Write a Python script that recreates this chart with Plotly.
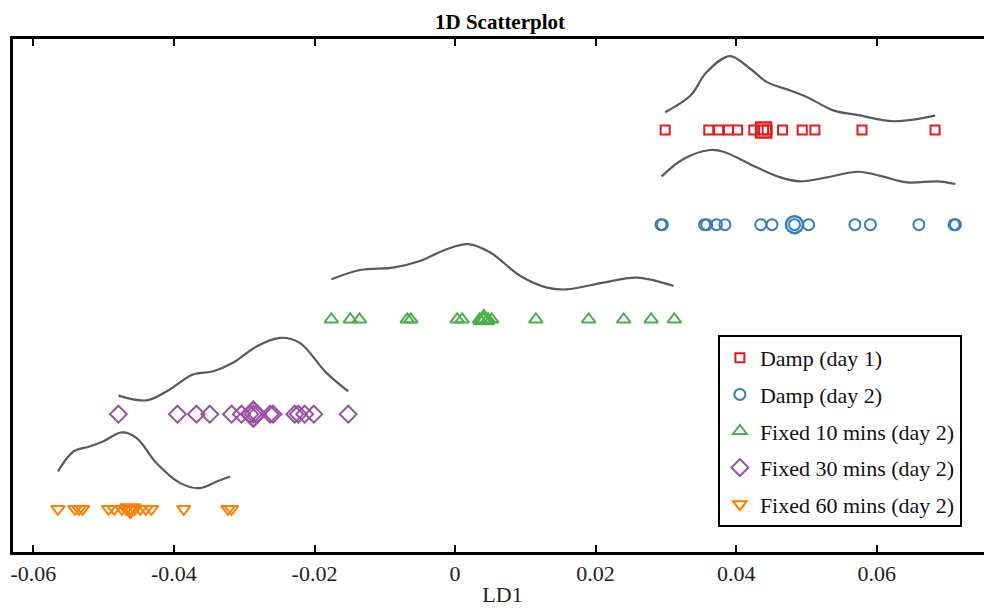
import plotly.graph_objects as go

# ---- data ----
group_names = ["Damp (day 1)", "Damp (day 2)", "Fixed 10 mins (day 2)",
               "Fixed 30 mins (day 2)", "Fixed 60 mins (day 2)"]
group_rows = [5, 4, 3, 2, 1]

damp_day1 = [0.0299, 0.0361, 0.0375, 0.0389, 0.0402, 0.0425, 0.0439, 0.0444,
             0.0466, 0.0494, 0.0512, 0.0579, 0.0683]
damp_day2 = [0.0293, 0.0295, 0.0355, 0.0358, 0.0372, 0.0384, 0.0435, 0.0451,
             0.0483, 0.0503, 0.0569, 0.0591, 0.0660, 0.0710, 0.0712]
fixed10 = [-0.0176, -0.0149, -0.0136, -0.0068, -0.0063, 0.0003, 0.0010, 0.0035,
           0.0041, 0.0047, 0.0052, 0.0115, 0.0190, 0.0240, 0.0279, 0.0312]
fixed30 = [-0.0479, -0.0395, -0.0368, -0.0349, -0.0318, -0.0304, -0.0292, -0.0287,
           -0.0282, -0.0263, -0.0259, -0.0228, -0.0223, -0.0214, -0.0201, -0.0152]
fixed60 = [-0.0565, -0.0541, -0.0535, -0.0530, -0.0493, -0.0485, -0.0474, -0.0468,
           -0.0462, -0.0456, -0.0448, -0.0440, -0.0432, -0.0386, -0.0323, -0.0318]

# highlighted (larger) marker per group
group_centres = [0.0439, 0.0483, 0.0041, -0.0287, -0.0462]

# density curves: x positions and height above row baseline
curve_x_day1 = [0.0299, 0.0335, 0.0358, 0.0391, 0.0420, 0.0444, 0.0477, 0.0501,
                0.0539, 0.0572, 0.0624, 0.0683]
curve_h_day1 = [0.187, 0.363, 0.611, 0.780, 0.646, 0.505, 0.416, 0.346,
                0.204, 0.159, 0.092, 0.151]
curve_x_day2 = [0.0294, 0.0325, 0.0363, 0.0382, 0.0429, 0.0463, 0.0491, 0.0529,
                0.0574, 0.0605, 0.0643, 0.0686, 0.0712]
curve_h_day2 = [0.510, 0.693, 0.788, 0.770, 0.605, 0.499, 0.457, 0.499,
                0.559, 0.516, 0.447, 0.457, 0.429]
curve_x_f10 = [-0.0176, -0.0135, -0.0088, -0.0050, -0.0012, 0.0019, 0.0050, 0.0093,
               0.0131, 0.0159, 0.0211, 0.0259, 0.0311]
curve_h_f10 = [0.423, 0.522, 0.547, 0.617, 0.741, 0.794, 0.706, 0.458,
               0.335, 0.317, 0.388, 0.441, 0.352]
curve_x_f30 = [-0.0479, -0.0439, -0.0410, -0.0373, -0.0344, -0.0316, -0.0282,
               -0.0249, -0.0221, -0.0183, -0.0152]
curve_h_f30 = [0.196, 0.146, 0.241, 0.418, 0.453, 0.542, 0.717, 0.806, 0.753,
               0.436, 0.241]
curve_x_f60 = [-0.0565, -0.0543, -0.0520, -0.0501, -0.0474, -0.0453, -0.0425,
               -0.0391, -0.0363, -0.0339, -0.0320]
curve_h_f60 = [0.395, 0.606, 0.659, 0.712, 0.807, 0.748, 0.484, 0.272, 0.219,
               0.289, 0.342]

x_tick_vals = [-0.06, -0.04, -0.02, 0, 0.02, 0.04, 0.06]
x_tick_text = ["-0.06", "-0.04", "-0.02", "0", "0.02", "0.04", "0.06"]

# ---- styling ----
colors = ["#e41a1c", "#377eb8", "#4daf4a", "#984ea3", "#ff7f00"]
symbols = ["square-open", "circle-open", "triangle-up-open", "diamond-open",
           "triangle-down-open"]
sizes = [9, 11, 12, 13, 12]
font_family = "Liberation Serif, Times New Roman, serif"

groups = [damp_day1, damp_day2, fixed10, fixed30, fixed60]
curves = [(curve_x_day1, curve_h_day1), (curve_x_day2, curve_h_day2),
          (curve_x_f10, curve_h_f10), (curve_x_f30, curve_h_f30),
          (curve_x_f60, curve_h_f60)]

fig = go.Figure()

for i, (name, vals) in enumerate(zip(group_names, groups)):
    row = group_rows[i]
    cx, ch = curves[i]
    fig.add_trace(go.Scatter(
        x=cx, y=[row + h for h in ch], mode="lines", line_shape="spline",
        line=dict(color="#5a5a5a", width=2.2), showlegend=False, hoverinfo="skip"))
    fig.add_trace(go.Scatter(
        x=vals, y=[row] * len(vals), mode="markers", name=name,
        legendgroup=f"g{i}",
        marker=dict(symbol=symbols[i], size=sizes[i], color=colors[i],
                    line=dict(width=2, color=colors[i]))))
    fig.add_trace(go.Scatter(
        x=[group_centres[i]], y=[row], mode="markers", showlegend=False,
        marker=dict(symbol=symbols[i], size=sizes[i] + 6, color=colors[i],
                    line=dict(width=2.5, color=colors[i]))))

# page body has an 8px margin, so the figure is sized to fit the window
fig.update_layout(
    width=984, height=602,
    margin=dict(l=5, r=0, t=31, b=58),
    paper_bgcolor="white", plot_bgcolor="white",
    font=dict(family=font_family, size=21, color="#222"),
    title=dict(text="<b>1D Scatterplot</b>", x=0.5, xanchor="center",
               y=0.99, yanchor="top", font=dict(size=21, color="black")),
    legend=dict(x=0.720, y=0.423, xanchor="left", yanchor="top",
                bordercolor="black", borderwidth=2, bgcolor="white",
                font=dict(size=22, color="#111"), tracegroupgap=5),
    showlegend=True,
)
fig.update_xaxes(range=[-0.0629, 0.0764], tickvals=x_tick_vals,
                 ticktext=x_tick_text, ticks="inside", ticklen=7,
                 tickwidth=1.5, tickcolor="black", mirror="ticks",
                 showline=True, linecolor="black", linewidth=2.5,
                 showgrid=False, zeroline=False, automargin=False,
                 title=dict(text="LD1", standoff=2, font=dict(size=22)),
                 tickfont=dict(size=22))
fig.update_yaxes(range=[0.545, 5.96], showticklabels=False, ticks="",
                 showline=True, linecolor="black", linewidth=2.5, mirror=False,
                 showgrid=False, zeroline=False, automargin=False)

fig.write_html("out.html")
